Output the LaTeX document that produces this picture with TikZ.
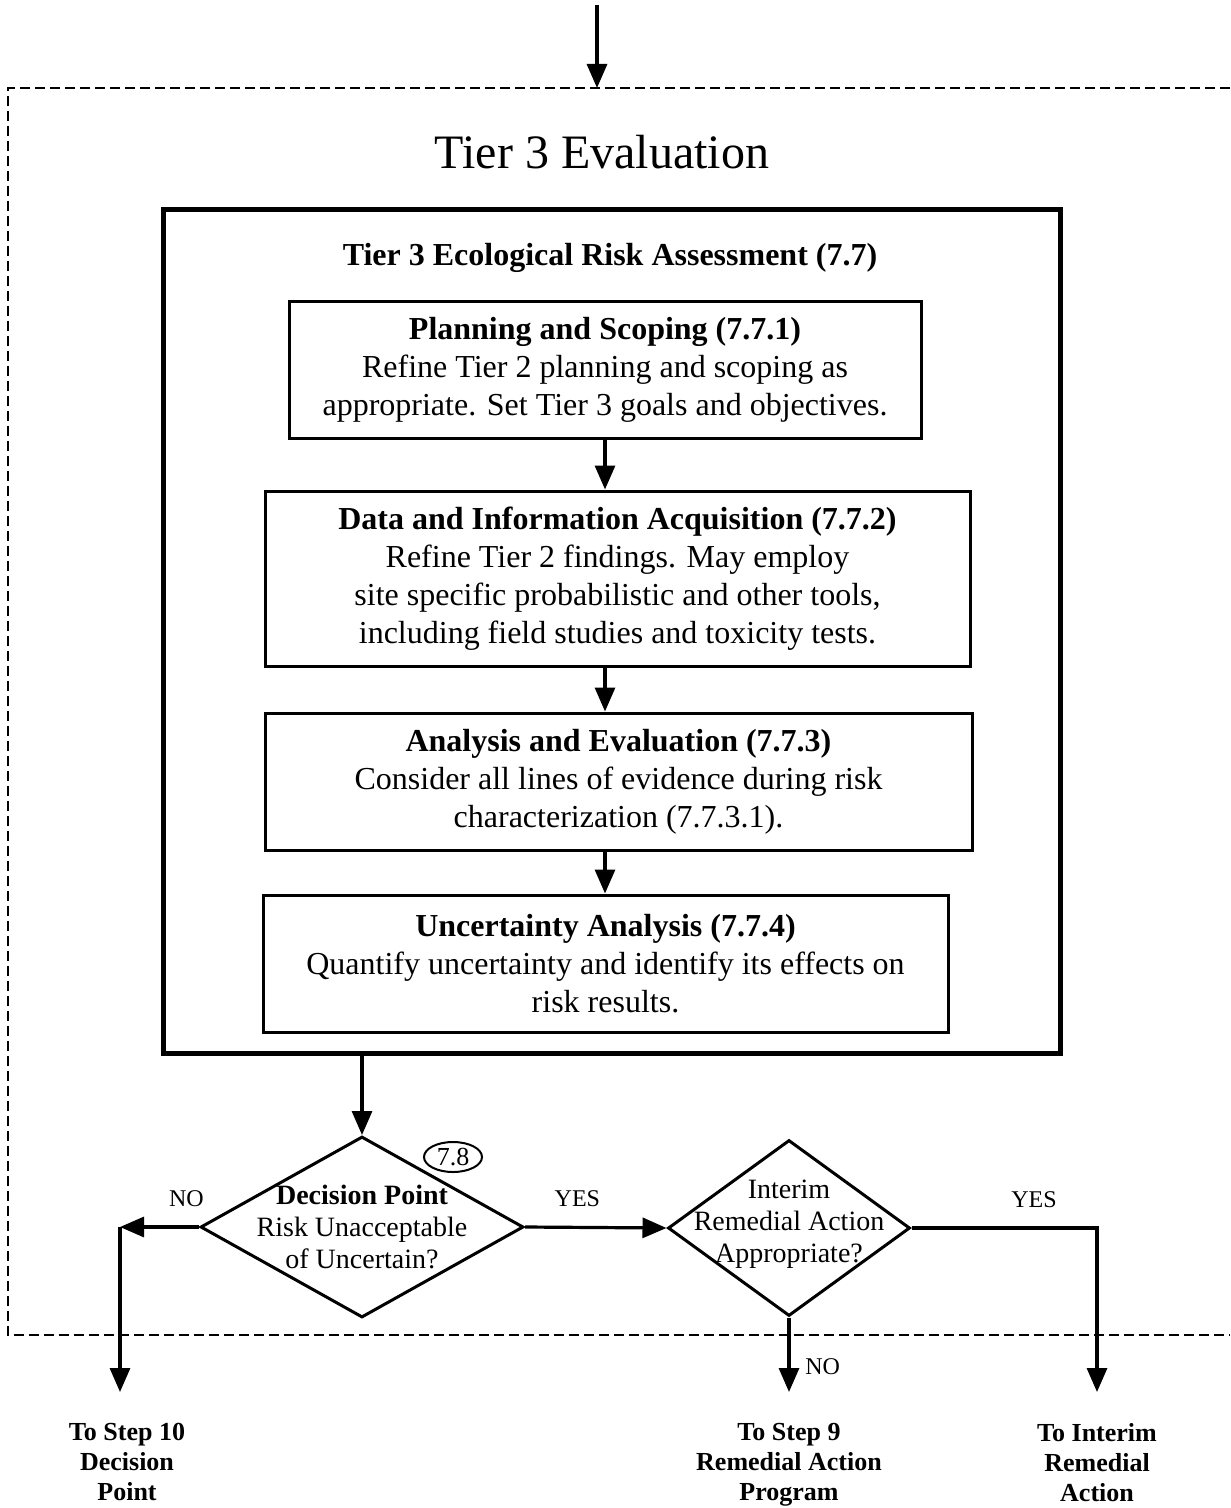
\documentclass[tikz,border=0pt]{standalone}
\usepackage{fontspec}
\setmainfont{Liberation Serif}
\usetikzlibrary{arrows.meta, shapes.geometric, positioning}

\begin{document}
\begin{tikzpicture}[
    x=0.5pt, y=-0.5pt,
    every node/.style={align=center, font=\fontsize{16}{19}\selectfont},
    frame/.style={line width=1pt, dash pattern=on 5pt off 2.5pt},
    outerbox/.style={rectangle, draw, line width=2.5pt, inner sep=0pt},
    process/.style={rectangle, draw, line width=1.5pt, inner sep=0pt},
    decision/.style={diamond, draw, line width=1.5pt, inner sep=0pt},
    dtext/.style={align=center, font=\fontsize{14}{16}\selectfont},
    answer/.style={font=\fontsize{12}{14}\selectfont},
    target/.style={anchor=north, font=\fontsize{13}{15}\selectfont\bfseries},
    arrow/.style={-{Triangle[length=12pt, width=10pt]}, line width=1.6pt}
]
\useasboundingbox (0,0) rectangle (1230,1508);

% --- Marco punteado de la evaluacion
\draw[frame] (1230,88) -- (8,88) -- (8,1335) -- (1230,1335);
\coordinate (entry) at (597,5);
\coordinate (frametop) at (597,88);
\node[font=\fontsize{24}{28}\selectfont] (title) at (602,152) {Tier 3 Evaluation};

% --- Caja principal y pasos
\node[outerbox, minimum width=448.5pt, minimum height=421.5pt] (tierbox) at (611.5,631.5) {};
\node[font=\fontsize{16}{19}\selectfont\bfseries] (tiertitle) at (610,258) {Tier 3 Ecological Risk Assessment (7.7)};

\node[process, minimum width=316pt, minimum height=68pt] (planning) at (605,370)
    {\textbf{Planning and Scoping (7.7.1)}\\Refine Tier 2 planning and scoping as\\appropriate.  Set Tier 3 goals and objectives.};
\node[process, minimum width=352.5pt, minimum height=87.5pt] (data) at (617.5,578.5)
    {\textbf{Data and Information Acquisition (7.7.2)}\\Refine Tier 2 findings.  May employ\\site specific probabilistic and other tools,\\including field studies and toxicity tests.};
\node[process, minimum width=353.5pt, minimum height=68.5pt] (analysis) at (618.5,781.5)
    {\textbf{Analysis and Evaluation (7.7.3)}\\Consider all lines of evidence during risk\\characterization (7.7.3.1).};
\node[process, minimum width=342.5pt, minimum height=68.5pt] (uncertainty) at (605.5,963.5)
    {\textbf{Uncertainty Analysis (7.7.4)}\\Quantify uncertainty and identify its effects on\\risk results.};

% --- Decisiones
\node[decision, minimum width=161.5pt, minimum height=90.5pt,
      label={[dtext]center:{\textbf{Decision Point}\\Risk Unacceptable\\of Uncertain?}}] (dp) at (362,1227) {};
\node[ellipse, draw, line width=1pt, minimum width=29pt, minimum height=15pt, inner sep=0pt,
      font=\fontsize{13}{13}\selectfont] (ref78) at (453,1157) {7.8};
\node[decision, minimum width=121pt, minimum height=88pt,
      label={[dtext, yshift=2pt]center:{Interim\\Remedial Action\\Appropriate?}}] (ia) at (789,1228) {};
\coordinate (nobend) at (120,1227);

% --- Salidas
\node[target] (step10) at (127,1416) {To Step 10\\Decision\\Point};
\node[target] (remedial) at (789,1416) {To Step 9\\Remedial Action\\Program};
\node[target] (interim) at (1097,1416) {To Interim\\Remedial\\Action};

% --- Flechas
\draw[arrow] (entry) -- (frametop);
\draw[arrow] (planning.south) -- (planning.south |- data.north);
\draw[arrow] (data.south -| planning.south) -- (analysis.north -| planning.south);
\draw[arrow] (analysis.south -| planning.south) -- (uncertainty.north -| planning.south);
\draw[arrow] (tierbox.south -| dp.north) -- (dp.north);

\draw[arrow] (dp.west) -- node[answer, pos=0.16, above=6pt] {NO} (nobend);
\draw[arrow, shorten >=12pt] (nobend) -- (nobend |- step10.north);
\draw[arrow] (dp.east) -- node[answer, pos=0.37, above=6pt] {YES} (ia.west);
\draw[arrow, shorten >=12pt] (ia.east) -| node[answer, pos=0.33, above=6pt] {YES} (interim.north);
\draw[arrow, shorten >=12pt] (ia.south) -- node[answer, pos=0.5, right=4pt] {NO} (remedial.north);

\end{tikzpicture}
\end{document}
